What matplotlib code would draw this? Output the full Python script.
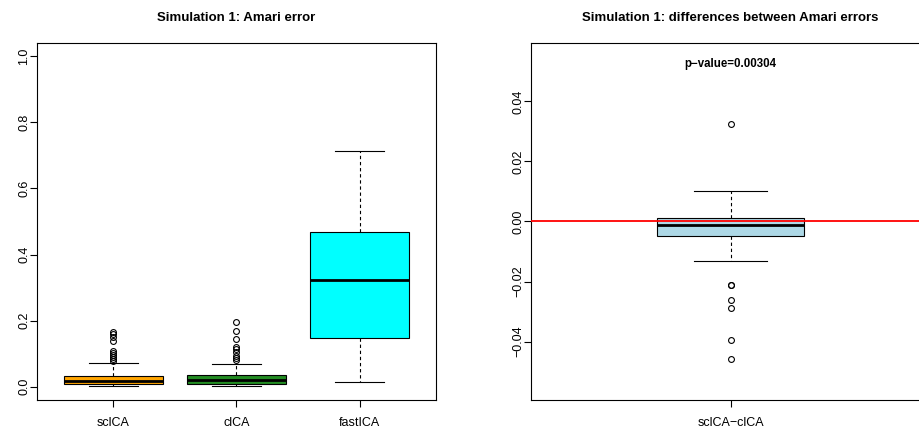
import numpy as np
import matplotlib.pyplot as plt

plt.rcParams['font.family'] = ['Liberation Sans', 'DejaVu Sans']

# Amari error per method (five-number summaries plus outliers)
methods = ["sclCA", "clCA", "fastICA"]
box_colors = ["#FFA500", "#228B22", "#00FFFF"]
q1 = [0.007, 0.009, 0.1475]
med = [0.016, 0.019, 0.324]
q3 = [0.034, 0.037, 0.4676]
whis_lo = [0.001, 0.001, 0.013]
whis_hi = [0.071, 0.070, 0.713]
outliers = [
    [0.166, 0.160, 0.152, 0.140, 0.109, 0.102, 0.096, 0.090, 0.083, 0.077],
    [0.195, 0.170, 0.145, 0.120, 0.114, 0.104, 0.094, 0.086, 0.080],
    [],
]

# differences sclCA - clCA
diff_label = "sclCA\u2212clCA"
diff_q1 = -0.0049
diff_med = -0.0012
diff_q3 = 0.0012
diff_lo = -0.0131
diff_hi = 0.0100
diff_out = [0.0326, -0.0211, -0.0213, -0.0262, -0.0287, -0.0394, -0.0459]
p_value = 0.00304

fig = plt.figure(figsize=(9.2, 4.33), dpi=100)
W, H = 920, 433
ax1 = fig.add_axes([37 / W, 33 / H, 399 / W, 357 / H])
ax2 = fig.add_axes([531 / W, 33 / H, 399 / W, 357 / H])

dash = (0, (3, 2.5))
common = dict(
    patch_artist=True,
    showfliers=True,
    boxprops=dict(edgecolor="black", linewidth=0.8),
    whiskerprops=dict(color="black", linestyle=dash, linewidth=0.8),
    capprops=dict(color="black", linewidth=0.8),
    medianprops=dict(color="black", linewidth=2.0),
    flierprops=dict(marker="o", markerfacecolor="none", markeredgecolor="black",
                    markersize=4.2, markeredgewidth=0.8, linestyle="none"),
)

stats = []
for i, m in enumerate(methods):
    stats.append(dict(label=m, q1=q1[i], med=med[i], q3=q3[i],
                      whislo=whis_lo[i], whishi=whis_hi[i], fliers=outliers[i]))
bp = ax1.bxp(stats, positions=[1, 2, 3], widths=0.8, capwidths=0.4, **common)
for patch, c in zip(bp["boxes"], box_colors):
    patch.set_facecolor(c)
ax1.set_xlim(0.38, 3.62)
ax1.set_ylim(-0.04, 1.04)
ax1.set_yticks([0.0, 0.2, 0.4, 0.6, 0.8, 1.0])
ax1.set_yticklabels(["0.0", "0.2", "0.4", "0.6", "0.8", "1.0"], rotation=90, va="center")
ax1.set_title("Simulation 1: Amari error", fontsize=9.5, fontweight="bold", pad=16)

dstats = [dict(label=diff_label, q1=diff_q1, med=diff_med, q3=diff_q3,
               whislo=diff_lo, whishi=diff_hi, fliers=diff_out)]
bp2 = ax2.bxp(dstats, positions=[1], widths=0.4, capwidths=0.2, **common)
bp2["boxes"][0].set_facecolor("#ADD8E6")
ax2.axhline(0, color="red", linewidth=1.3, zorder=5)
ax2.set_xlim(0.46, 1.54)
ax2.set_ylim(-0.0595, 0.0595)
dt = [-0.04, -0.02, 0.0, 0.02, 0.04]
ax2.set_yticks(dt)
ax2.set_yticklabels(["\u22120.04", "\u22120.02", "0.00", "0.02", "0.04"], rotation=90, va="center")
ax2.set_title("Simulation 1: differences between Amari errors", fontsize=9.5,
              fontweight="bold", pad=16)
ax2.text(0.5, 0.941, f"p\u2212value={p_value}", transform=ax2.transAxes,
         ha="center", va="center", fontsize=8.3, fontweight="bold")

for ax in (ax1, ax2):
    for s in ax.spines.values():
        s.set_linewidth(0.8)
    ax.tick_params(axis="both", length=5, width=0.8, labelsize=9, color="black")
    ax.tick_params(axis="x", pad=7)
    ax.tick_params(axis="y", pad=0)

fig.savefig("out.png", dpi=100)
